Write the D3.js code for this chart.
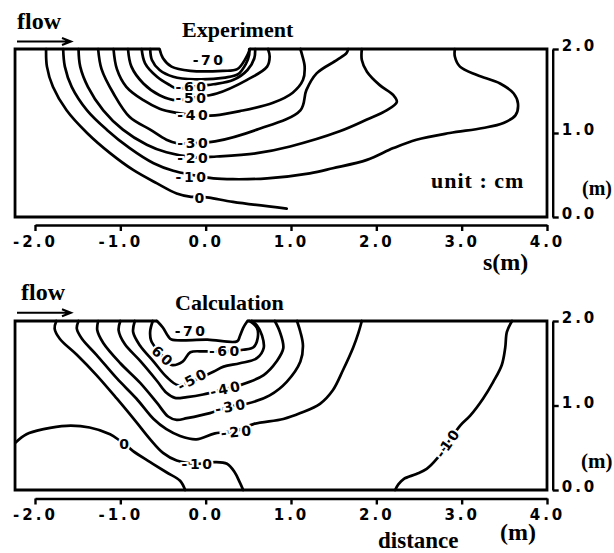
<!DOCTYPE html>
<html>
<head>
<meta charset="utf-8">
<script src="https://cdn.jsdelivr.net/npm/d3@7"></script>
<style>
  body { margin: 0; background: #fff; }
  svg { display: block; }
</style>
</head>
<body>
<svg id="chart"></svg>
<script>
let width = 614;
let height = 553;

// axes
const sTicks = [-2, -1, 0, 1, 2, 3, 4];
const zTicks = [0, 1, 2];
const sBoxLeft = -2.234; // left edge of the flume box (m)

// Experiment contours, points are [s (m), z (m)]
const exp0 = [[-1.87, 2.0], [-1.86, 1.79], [-1.79, 1.55], [-1.63, 1.27], [-1.39, 1.0], [-1.12, 0.76], [-0.85, 0.56], [-0.57, 0.40], [-0.34, 0.28], [-0.17, 0.24], [-0.07, 0.24], [0.04, 0.23], [0.32, 0.18], [0.95, 0.10]];
const expM10 = [[-1.67, 2.0], [-1.65, 1.79], [-1.57, 1.55], [-1.39, 1.27], [-1.16, 1.04], [-0.89, 0.82], [-0.61, 0.64], [-0.38, 0.55], [-0.15, 0.50], [0.09, 0.46], [0.32, 0.45], [0.72, 0.46], [1.22, 0.52], [1.49, 0.58], [1.89, 0.68], [2.20, 0.82], [2.47, 0.92], [2.86, 1.0], [3.25, 1.06], [3.49, 1.12], [3.63, 1.21], [3.66, 1.35], [3.61, 1.47], [3.45, 1.59], [3.18, 1.69], [2.98, 1.79], [2.92, 1.91], [2.92, 2.0]];
const expM20 = [[-1.49, 2.0], [-1.47, 1.79], [-1.38, 1.55], [-1.20, 1.27], [-0.97, 1.04], [-0.69, 0.86], [-0.46, 0.77], [-0.13, 0.71], [0.13, 0.72], [0.60, 0.76], [0.99, 0.84], [1.57, 1.02], [1.89, 1.16], [2.12, 1.27], [2.24, 1.37], [2.20, 1.45], [2.04, 1.57], [1.89, 1.73], [1.83, 1.87], [1.83, 2.0]];
const expM30 = [[-1.26, 2.0], [-1.22, 1.76], [-1.08, 1.47], [-0.89, 1.19], [-0.65, 1.04], [-0.46, 0.92], [-0.34, 0.88], [-0.13, 0.88], [0.11, 0.90], [0.60, 1.04], [1.11, 1.27], [1.18, 1.51], [1.30, 1.71], [1.54, 1.87], [1.65, 1.95], [1.67, 2.0]];
const expM40 = [[-1.08, 2.0], [-1.04, 1.76], [-0.93, 1.55], [-0.73, 1.39], [-0.54, 1.29], [-0.34, 1.24], [-0.13, 1.21], [0.11, 1.21], [0.40, 1.26], [0.79, 1.36], [1.02, 1.48], [1.14, 1.63], [1.16, 1.79], [1.13, 1.93], [1.11, 2.0]];
const expM50 = [[-0.91, 2.0], [-0.87, 1.79], [-0.73, 1.59], [-0.54, 1.45], [-0.34, 1.39], [-0.15, 1.42], [0.13, 1.47], [0.48, 1.63], [0.72, 1.79], [0.75, 1.91], [0.73, 2.0]];
const expM60 = [[-0.75, 2.0], [-0.71, 1.83], [-0.57, 1.67], [-0.42, 1.57], [-0.34, 1.53], [-0.16, 1.55], [0.09, 1.58], [0.32, 1.63], [0.49, 1.75], [0.57, 1.89], [0.58, 2.0]];
const expInner = [[-0.65, 2.0], [-0.63, 1.87], [-0.54, 1.75], [-0.38, 1.67], [-0.13, 1.64], [0.23, 1.66], [0.38, 1.70], [0.47, 1.82], [0.51, 1.93], [0.51, 2.0]];
const expBowl = [[-0.54, 2.0], [-0.50, 1.89], [-0.40, 1.79], [-0.18, 1.74], [0.20, 1.74], [0.37, 1.76], [0.47, 1.89], [0.52, 2.0]];

const expLabels = [
  { text: "-70", s: 0.04, z: 1.87, angle: 0 },
  { text: "-60", s: -0.16, z: 1.55, angle: 0 },
  { text: "-50", s: -0.16, z: 1.42, angle: 0 },
  { text: "-40", s: -0.14, z: 1.21, angle: 0 },
  { text: "-30", s: -0.14, z: 0.88, angle: 0 },
  { text: "-20", s: -0.14, z: 0.70, angle: 0 },
  { text: "-10", s: -0.16, z: 0.48, angle: 0 },
  { text: "0", s: -0.06, z: 0.23, angle: 0 },
];

// Calculation contours
const calc0 = [[-2.23, 0.56], [-2.10, 0.66], [-1.90, 0.72], [-1.63, 0.76], [-1.36, 0.74], [-1.12, 0.66], [-1.0, 0.58], [-0.94, 0.54], [-0.85, 0.46], [-0.65, 0.33], [-0.46, 0.21], [-0.30, 0.11], [-0.24, 0.0]];
const calcM10 = [[-1.75, 2.0], [-1.77, 1.91], [-1.71, 1.79], [-1.51, 1.60], [-1.28, 1.36], [-1.04, 1.08], [-0.81, 0.80], [-0.65, 0.60], [-0.50, 0.44], [-0.34, 0.35], [-0.09, 0.31], [0.11, 0.33], [0.25, 0.31], [0.34, 0.21], [0.40, 0.09], [0.44, 0.0]];
const calcM20 = [[-1.49, 2.0], [-1.51, 1.91], [-1.45, 1.79], [-1.28, 1.60], [-1.04, 1.32], [-0.81, 1.08], [-0.61, 0.84], [-0.46, 0.72], [-0.30, 0.64], [-0.11, 0.60], [0.11, 0.67], [0.36, 0.70], [0.56, 0.78], [0.91, 0.84], [1.11, 0.91], [1.34, 1.02], [1.49, 1.18], [1.61, 1.42], [1.73, 1.69], [1.79, 1.86], [1.83, 2.0]];
const calcM30 = [[-1.26, 2.0], [-1.27, 1.89], [-1.20, 1.74], [-1.0, 1.50], [-0.77, 1.27], [-0.57, 1.03], [-0.44, 0.87], [-0.34, 0.83], [-0.22, 0.85], [0.05, 0.91], [0.29, 0.99], [0.48, 1.02], [0.75, 1.12], [0.95, 1.28], [1.11, 1.52], [1.14, 1.71], [1.11, 1.87], [1.07, 2.0]];
const calcM40 = [[-1.0, 2.0], [-1.02, 1.89], [-0.95, 1.73], [-0.77, 1.53], [-0.57, 1.29], [-0.46, 1.15], [-0.36, 1.09], [-0.22, 1.10], [-0.03, 1.13], [0.24, 1.20], [0.40, 1.24], [0.68, 1.36], [0.83, 1.52], [0.91, 1.68], [0.87, 1.87], [0.81, 2.0]];
const calcM50 = [[-0.83, 2.0], [-0.85, 1.87], [-0.77, 1.71], [-0.61, 1.52], [-0.46, 1.34], [-0.32, 1.24], [-0.13, 1.30], [0.09, 1.40], [0.21, 1.46], [0.40, 1.50], [0.60, 1.56], [0.68, 1.68], [0.66, 1.83], [0.60, 1.95], [0.54, 2.0]];
const calcM60 = [[-0.62, 2.0], [-0.65, 1.88], [-0.64, 1.77], [-0.57, 1.66], [-0.50, 1.58], [-0.40, 1.48], [-0.27, 1.52], [-0.18, 1.63], [-0.01, 1.64], [0.23, 1.64], [0.44, 1.66], [0.56, 1.69], [0.61, 1.80], [0.60, 1.92], [0.53, 1.99], [0.51, 2.0]];
const calcBowl = [[-0.57, 2.0], [-0.50, 1.92], [-0.44, 1.82], [-0.40, 1.78], [0.02, 1.78], [0.37, 1.76], [0.40, 1.82], [0.44, 1.92], [0.49, 2.0]];
const calcM10Right = [[3.59, 2.0], [3.53, 1.87], [3.51, 1.68], [3.47, 1.48], [3.37, 1.28], [3.25, 1.08], [3.10, 0.88], [2.98, 0.76], [2.84, 0.56], [2.71, 0.37], [2.59, 0.25], [2.47, 0.19], [2.32, 0.13], [2.26, 0.07], [2.22, 0.0]];

const calcLabels = [
  { text: "-70", s: -0.17, z: 1.88, angle: 0 },
  { text: "60", s: -0.50, z: 1.58, angle: 42 },
  { text: "-60", s: 0.23, z: 1.64, angle: 0 },
  { text: "-50", s: -0.15, z: 1.31, angle: -28 },
  { text: "-40", s: 0.24, z: 1.20, angle: -12 },
  { text: "-30", s: 0.30, z: 0.99, angle: -10 },
  { text: "-20", s: 0.37, z: 0.69, angle: -5 },
  { text: "-10", s: -0.09, z: 0.31, angle: 0 },
  { text: "0", s: -0.94, z: 0.54, angle: 0 },
  { text: "-10", s: 2.84, z: 0.56, angle: -55 },
];

let svg = d3.select("svg#chart").attr("width", width).attr("height", height);

let xScale = d3.scaleLinear().domain([-2, 4]).range([35, 547]);

let serif = "'Liberation Serif', 'Times New Roman', serif";
let sans = "'DejaVu Sans', Verdana, sans-serif";

let contourLine = d3
  .line()
  .x((d) => xScale(d[0]))
  .y((d) => 0)
  .curve(d3.curveCatmullRom.alpha(0.5));

drawPanel({
  yScale: d3.scaleLinear().domain([0, 2]).range([217, 49]),
  axisY: 225,
  contours: [exp0, expM10, expM20, expM30, expM40, expM50, expM60, expInner, expBowl],
  bowl: expBowl,
  labels: expLabels,
});

drawPanel({
  yScale: d3.scaleLinear().domain([0, 2]).range([490, 321]),
  axisY: 498.5,
  contours: [calc0, calcM10, calcM20, calcM30, calcM40, calcM50, calcM60, calcBowl, calcM10Right],
  bowl: calcBowl,
  labels: calcLabels,
});

drawTexts();

function drawPanel(p) {
  let y = p.yScale;
  let g = svg.append("g");
  let line = contourLine.y((d) => y(d[1]));

  // box, the top edge is broken where the bowl dips
  let x0 = xScale(sBoxLeft);
  let x1 = xScale(4);
  let bowlStart = xScale(p.bowl[0][0]);
  let bowlEnd = xScale(p.bowl[p.bowl.length - 1][0]);
  g.append("path")
    .attr(
      "d",
      `M${bowlStart},${y(2)}H${x0}V${y(0)}H${x1}V${y(2)}H${bowlEnd}`
    )
    .attr("fill", "none")
    .attr("stroke", "#000")
    .attr("stroke-width", 2.8);

  g.append("g")
    .selectAll("path")
    .data(p.contours)
    .join("path")
    .attr("d", line)
    .attr("fill", "none")
    .attr("stroke", "#000")
    .attr("stroke-width", 2.7)
    .attr("stroke-linecap", "round")
    .attr("stroke-linejoin", "round");

  g.append("g")
    .selectAll("text")
    .data(p.labels)
    .join("text")
    .attr("transform", (d) => `translate(${xScale(d.s)},${y(d.z)}) rotate(${d.angle})`)
    .attr("text-anchor", "middle")
    .attr("dy", "0.36em")
    .attr("font-family", sans)
    .attr("font-weight", "bold")
    .attr("font-size", 14)
    .attr("letter-spacing", 2.5)
    .attr("fill", "#000")
    .attr("stroke", "#fff")
    .attr("stroke-width", 4)
    .attr("paint-order", "stroke")
    .text((d) => d.text);

  // separate distance axis under the box
  let xAxis = d3
    .axisBottom(xScale)
    .tickValues(sTicks)
    .tickSize(6)
    .tickSizeOuter(0)
    .tickPadding(5)
    .tickFormat((d) => d.toFixed(1));

  g.append("g")
    .attr("transform", `translate(0,${p.axisY})`)
    .call(xAxis)
    .call((a) => a.selectAll("path, line").attr("stroke", "#000").attr("stroke-width", 2.4))
    .call((a) =>
      a
        .selectAll("text")
        .attr("fill", "#000")
        .attr("font-family", sans)
        .attr("font-weight", "bold")
        .attr("font-size", 15)
        .attr("letter-spacing", 3)
    );

  // depth axis on the right
  let yAxis = d3
    .axisRight(y)
    .tickValues(zTicks)
    .tickSize(6)
    .tickSizeOuter(0)
    .tickPadding(3)
    .tickFormat((d) => d.toFixed(1));

  g.append("g")
    .attr("transform", `translate(552.7,0)`)
    .call(yAxis)
    .call((a) => a.selectAll("path, line").attr("stroke", "#000").attr("stroke-width", 2.4))
    .call((a) =>
      a
        .selectAll("text")
        .attr("fill", "#000")
        .attr("dy", "0.1em")
        .attr("font-family", sans)
        .attr("font-weight", "bold")
        .attr("font-size", 15)
        .attr("letter-spacing", 3)
    );
}

function drawTexts() {
  let texts = [
    { t: "flow", x: 17, y: 29, size: 24 },
    { t: "Experiment", x: 182, y: 37, size: 22 },
    { t: "unit : cm", x: 431, y: 188, size: 22, ls: 1 },
    { t: "(m)", x: 582, y: 195, size: 20 },
    { t: "s(m)", x: 483, y: 270, size: 24 },
    { t: "flow", x: 21, y: 300, size: 24 },
    { t: "Calculation", x: 175, y: 310, size: 22 },
    { t: "(m)", x: 581, y: 468, size: 21 },
    { t: "distance", x: 378, y: 548, size: 23 },
    { t: "(m)", x: 500, y: 540, size: 24 },
  ];

  svg
    .append("g")
    .selectAll("text")
    .data(texts)
    .join("text")
    .attr("x", (d) => d.x)
    .attr("y", (d) => d.y)
    .attr("font-family", serif)
    .attr("font-weight", "bold")
    .attr("font-size", (d) => d.size)
    .attr("letter-spacing", (d) => d.ls || 0)
    .attr("fill", "#000")
    .text((d) => d.t);

  // flow arrows
  [41.5, 312.7].forEach((ay) => {
    svg
      .append("path")
      .attr("d", `M17,${ay}H70M62,${ay - 3.5}L71,${ay}L62,${ay + 3.5}`)
      .attr("fill", "none")
      .attr("stroke", "#000")
      .attr("stroke-width", 2);
  });
}
</script>
</body>
</html>
